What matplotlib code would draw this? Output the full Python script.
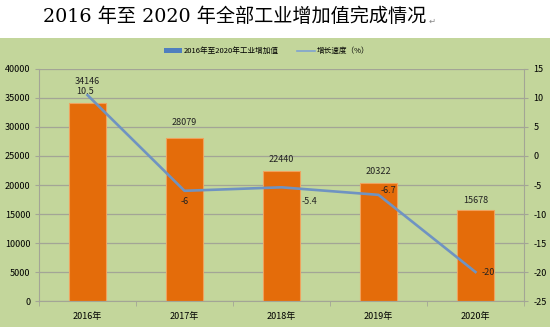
import numpy as np
import matplotlib.pyplot as plt
from matplotlib.patches import Rectangle, Patch
from matplotlib.lines import Line2D

plt.rcParams['font.family'] = ['Noto Sans CJK SC', 'DejaVu Sans']
plt.rcParams['axes.unicode_minus'] = False

years = ['2016年', '2017年', '2018年', '2019年', '2020年']
value_added = [34146, 28079, 22440, 20322, 15678]
growth = [10.5, -6, -5.4, -6.7, -20]
bar_label_offsets = [(0, 12.5), (0, 8), (0, 5), (0, 5), (0, 4)]
line_label_offsets = [(-2, 2.5), (0, -8), (20, -10), (7, 3), (9, 0)]

green = '#c3d69b'
orange = '#e46c0a'
blue = '#6f93c2'
grid = '#a3a596'

fig = plt.figure(figsize=(5.5, 3.27), dpi=100, facecolor='white')
fig.patches.append(Rectangle((0, 0), 1, 0.884, transform=fig.transFigure,
                             facecolor=green, edgecolor='none', zorder=-10))

fig.text(0.078, 0.948, '2016 年至 2020 年全部工业增加值完成情况',
         family=['DejaVu Serif', 'Noto Sans CJK SC'], fontsize=13.8,
         va='center', ha='left')
fig.text(0.779, 0.935, '↵', family=['DejaVu Sans'], fontsize=6,
         color='#888888', va='center', ha='left')

ax = fig.add_axes([0.0709, 0.0795, 0.8818, 0.7095])
ax.set_facecolor('none')
x = np.arange(len(years))
bars = ax.bar(x, value_added, width=0.39, color=orange,
              edgecolor='#f0a25e', linewidth=0.8, zorder=2)
ax.set_xlim(-0.5, 4.5)
ax.set_ylim(0, 40000)
ax.set_yticks(np.arange(0, 40001, 5000))
ax.yaxis.grid(True, color=grid, linewidth=0.9, zorder=0)
ax.set_axisbelow(True)
ax.set_xticks(x)
ax.set_xticklabels(years, fontsize=6.5)
ax.set_xticks(np.arange(-0.5, 5, 1), minor=True)
ax.tick_params(axis='x', which='major', length=0, pad=8)
ax.tick_params(axis='x', which='minor', length=3.5, color=grid)
ax.tick_params(axis='y', labelsize=6.5, length=3, color=grid, pad=3)
for s in ['top', 'right']:
    ax.spines[s].set_visible(False)
for s in ['left', 'bottom']:
    ax.spines[s].set_color(grid)

for xi, v, off in zip(x, value_added, bar_label_offsets):
    ax.annotate(str(v), (xi, v), xytext=off, textcoords='offset points',
                ha='center', va='bottom', fontsize=6.5, color='#222222')

ax2 = ax.twinx()
ax2.plot(x, growth, color=blue, linewidth=1.9, zorder=3)
ax2.set_ylim(-25, 15)
ax2.set_yticks(np.arange(-25, 16, 5))
ax2.tick_params(axis='y', labelsize=6.5, length=3, color=grid, pad=4)
for s in ['top', 'left', 'bottom']:
    ax2.spines[s].set_visible(False)
ax2.spines['right'].set_color(grid)

for xi, v, off in zip(x, growth, line_label_offsets):
    ax2.annotate(f'{v:g}', (xi, v), xytext=off, textcoords='offset points',
                 ha='center', va='center', fontsize=6.5, color='#222222')

handles = [Patch(facecolor='#4f7fbf', edgecolor='none'),
           Line2D([], [], color='#7fa3d0', linewidth=1.2)]
fig.legend(handles, ['2016年至2020年工业增加值', '增长速度（%）'],
           loc='center', bbox_to_anchor=(0.485, 0.843), ncol=2, frameon=False,
           fontsize=5.5, handlelength=2.3, handleheight=0.6,
           columnspacing=2.5, handletextpad=0.2)

fig.savefig('out.png', dpi=100, facecolor='white')
